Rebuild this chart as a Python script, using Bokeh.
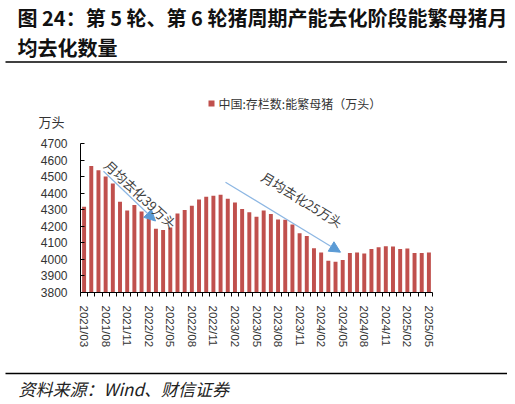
import math
from bokeh.plotting import figure
from bokeh.layouts import column
from bokeh.models import Label, Arrow, NormalHead, FixedTicker, Range1d
from bokeh.embed import file_html
from bokeh.resources import INLINE

# ---- data ----
months = ["2021/03", "2021/06", "2021/07", "2021/08", "2021/09", "2021/10", "2021/11", "2021/12",
          "2022/01", "2022/02", "2022/03", "2022/04", "2022/05", "2022/06", "2022/07", "2022/08",
          "2022/09", "2022/10", "2022/11", "2022/12", "2023/01", "2023/02", "2023/03", "2023/04",
          "2023/05", "2023/06", "2023/07", "2023/08", "2023/09", "2023/10", "2023/11", "2023/12",
          "2024/01", "2024/02", "2024/03", "2024/04", "2024/05", "2024/06", "2024/07", "2024/08",
          "2024/09", "2024/10", "2024/11", "2024/12", "2025/01", "2025/02", "2025/03", "2025/04",
          "2025/05"]
sows = [4318, 4564, 4539, 4500, 4459, 4348, 4296, 4329,
        4290, 4246, 4185, 4177, 4192, 4277, 4298, 4324,
        4362, 4379, 4385, 4390, 4367, 4343, 4305, 4284,
        4258, 4296, 4274, 4241, 4240, 4210, 4158, 4142,
        4067, 4042, 3992, 3986, 3996, 4038, 4041, 4036,
        4062, 4073, 4080, 4078, 4062, 4066, 4039, 4038,
        4042]
y_ticks = [3800, 3900, 4000, 4100, 4200, 4300, 4400, 4500, 4600, 4700]
title_line1 = "图 24：第 5 轮、第 6 轮猪周期产能去化阶段能繁母猪月"
title_line2 = "均去化数量"
legend_label = "中国:存栏数:能繁母猪（万头）"
unit_label = "万头"
note1 = "月均去化39万头"
note2 = "月均去化25万头"
source_text = "资料来源：Wind、财信证券"

BAR = "#C0504D"
CJK = "Noto Sans CJK SC"

# ---- layout (pixels) ----
W = 507
H_TOP, H_MAIN, H_BOT = 130, 225, 47
BL, BR, BT, BB = 80, W - 432, 13, 63
FW = W - BL - BR
FH = H_MAIN - BT - BB
N = len(months)
YMIN, YMAX = 3800, 4700


def blank(h):
    f = figure(width=W, height=h, output_backend="svg", toolbar_location=None,
               x_range=Range1d(0, W), y_range=Range1d(h, 0),
               x_axis_type=None, y_axis_type=None, min_border=0, frame_align=False)
    f.min_border_left = f.min_border_right = f.min_border_top = f.min_border_bottom = 0
    f.outline_line_color = None
    f.xgrid.visible = False
    f.ygrid.visible = False
    return f


# ---- header ----
top = blank(H_TOP)
top.add_layout(Label(x=17, y=17, text=title_line1, text_align="left", text_baseline="middle",
                     text_font=CJK, text_font_style="bold", text_font_size="20px",
                     text_color="#111111"))
top.add_layout(Label(x=17, y=47, text=title_line2, text_align="left", text_baseline="middle",
                     text_font=CJK, text_font_style="bold", text_font_size="20px",
                     text_color="#111111"))
top.segment(x0=[5], y0=[61.5], x1=[W], y1=[61.5], line_color="black", line_width=1.5)
top.quad(left=[208], right=[214], top=[100], bottom=[106], fill_color=BAR, line_color=None)
top.add_layout(Label(x=218, y=103, text=legend_label, text_align="left", text_baseline="middle",
                     text_font=CJK, text_font_size="12px", text_color="#333333"))
top.add_layout(Label(x=38, y=121, text=unit_label, text_align="left", text_baseline="middle",
                     text_font=CJK, text_font_size="13px", text_color="#333333"))

# ---- main chart ----
def dx(px):
    return (px - BL) / FW * N - 0.5


def dy(py):
    return YMIN + (H_TOP + BT + FH - py) / FH * (YMAX - YMIN)


p = figure(width=W, height=H_MAIN, output_backend="svg", toolbar_location=None,
           x_range=Range1d(-0.5, N - 0.5), y_range=Range1d(YMIN, YMAX), frame_align=False,
           min_border_left=BL, min_border_right=BR, min_border_top=BT, min_border_bottom=BB)
p.outline_line_color = None
p.xgrid.visible = False
p.ygrid.visible = False

xs = list(range(N))
p.vbar(x=xs, top=sows, bottom=YMIN, width=0.55, fill_color=BAR, line_color=None)

label_idx = list(range(0, N, 3))
p.xaxis.ticker = FixedTicker(ticks=label_idx, minor_ticks=[i + 0.5 for i in range(-1, N)])
p.xaxis.major_label_overrides = {i: months[i] for i in label_idx}
p.xaxis.major_label_orientation = -math.pi / 2
p.xaxis.major_tick_out = 0
p.xaxis.major_tick_in = 0
p.xaxis.minor_tick_out = 4
p.xaxis.minor_tick_in = 0
p.xaxis.axis_line_color = "black"
p.xaxis.minor_tick_line_color = "black"
p.xaxis.major_label_text_font = "Liberation Sans"
p.xaxis.major_label_text_font_size = "11.5px"
p.xaxis.major_label_text_color = "#333333"
p.xaxis.major_label_standoff = 9

p.yaxis.ticker = FixedTicker(ticks=y_ticks, minor_ticks=[])
p.yaxis.major_tick_in = 4
p.yaxis.major_tick_out = 0
p.yaxis.axis_line_color = "black"
p.yaxis.major_tick_line_color = "black"
p.yaxis.major_label_text_font = "Liberation Sans"
p.yaxis.major_label_text_font_size = "12px"
p.yaxis.major_label_text_color = "#333333"
p.yaxis.major_label_standoff = 13

p.add_layout(Arrow(end=NormalHead(size=11, fill_color="#5B9BD5", line_color="#5B9BD5"),
                   x_start=dx(103), y_start=dy(170.7), x_end=dx(155), y_end=dy(220.5),
                   line_color="#8DB7E3", line_width=1.2))
p.add_layout(Arrow(end=NormalHead(size=11, fill_color="#5B9BD5", line_color="#5B9BD5"),
                   x_start=dx(225), y_start=dy(181.7), x_end=dx(340), y_end=dy(251.7),
                   line_color="#8DB7E3", line_width=1.2))
p.add_layout(Label(x=dx(140), y=dy(194), text=note1, angle=-0.75, angle_units="rad",
                   text_align="center", text_baseline="middle", text_font=CJK,
                   text_font_size="13px", text_color="#404040"))
p.add_layout(Label(x=dx(301.7), y=dy(199), text=note2, angle=-0.55, angle_units="rad",
                   text_align="center", text_baseline="middle", text_font=CJK,
                   text_font_size="13px", text_color="#404040"))

# ---- footer ----
bot = blank(H_BOT)
bot.segment(x0=[5], y0=[18], x1=[W], y1=[18], line_color="black", line_width=1.5)
bot.add_layout(Label(x=18, y=33, text=source_text, text_align="left", text_baseline="middle",
                     text_font=CJK, text_font_style="italic", text_font_size="17px",
                     text_color="#222222"))

layout = column(top, p, bot, spacing=0)
open("out.html", "w").write(file_html(layout, INLINE))
